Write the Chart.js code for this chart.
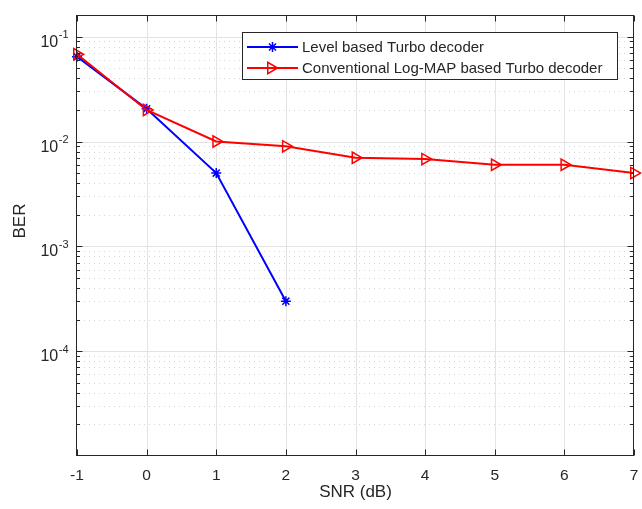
<!DOCTYPE html>
<html>
<head>
<meta charset="utf-8">
<script src="https://cdn.jsdelivr.net/npm/chart.js@4/dist/chart.umd.min.js"></script>
<style>
html,body{margin:0;padding:0;background:#fff;}
#wrap{width:642px;height:509px;position:relative;}
</style>
</head>
<body>
<div id="wrap"><canvas id="c" width="642" height="509"></canvas></div>
<script>
// ---- data ----
const snrLevel = [-1, 0, 1, 2];
const berLevel = [0.0645, 0.0205, 0.005, 0.0003];
const snrConv = [-1, 0, 1, 2, 3, 4, 5, 6, 7];
const berConv = [0.068, 0.02, 0.01, 0.009, 0.007, 0.0068, 0.006, 0.006, 0.005];
const xTicks = [-1, 0, 1, 2, 3, 4, 5, 6, 7];
const yDecades = [-1, -2, -3, -4];
const seriesNames = ['Level based Turbo decoder', 'Conventional Log-MAP based Turbo decoder'];
const xTitle = 'SNR (dB)';
const yTitle = 'BER';

const FONT = '"Liberation Sans", Arial, Helvetica, sans-serif';
const TXT = '#262626';
const YMIN = 1.0e-5, YMAX = 0.161;

function toPts(xs, ys) { return xs.map((x, i) => ({x: x, y: ys[i]})); }

function drawStar(ctx, x, y, r) {
  ctx.beginPath();
  ctx.moveTo(x - r, y); ctx.lineTo(x + r, y);
  ctx.moveTo(x, y - r); ctx.lineTo(x, y + r);
  const d = r * Math.SQRT1_2;
  ctx.moveTo(x - d, y - d); ctx.lineTo(x + d, y + d);
  ctx.moveTo(x - d, y + d); ctx.lineTo(x + d, y - d);
  ctx.stroke();
}
function drawTriRight(ctx, x, y, r) {
  const h = r * Math.sqrt(3) / 2;
  ctx.beginPath();
  ctx.moveTo(x + r, y);
  ctx.lineTo(x - r / 2, y - h);
  ctx.lineTo(x - r / 2, y + h);
  ctx.closePath();
  ctx.stroke();
}

const axesPlugin = {
  id: 'matlabAxes',
  beforeDatasetsDraw(chart) {
    const ctx = chart.ctx, ca = chart.chartArea, xs = chart.scales.x, ys = chart.scales.y;
    ctx.save();
    ctx.lineWidth = 1;
    // minor y grid (dotted)
    ctx.strokeStyle = '#d6d6d6';
    ctx.setLineDash([1, 4]);
    for (let k = -5; k <= -1; k++) {
      for (let m = 2; m <= 9; m++) {
        const v = m * Math.pow(10, k);
        if (v <= YMIN || v >= YMAX) continue;
        const py = Math.round(ys.getPixelForValue(v)) + 0.5;
        ctx.beginPath(); ctx.moveTo(ca.left + 2, py); ctx.lineTo(ca.right, py); ctx.stroke();
      }
    }
    // major grid
    ctx.setLineDash([]);
    ctx.strokeStyle = '#e3e3e3';
    yDecades.forEach(k => {
      const py = Math.round(ys.getPixelForValue(Math.pow(10, k))) + 0.5;
      ctx.beginPath(); ctx.moveTo(ca.left, py); ctx.lineTo(ca.right, py); ctx.stroke();
    });
    xTicks.forEach(t => {
      if (t === xTicks[0] || t === xTicks[xTicks.length - 1]) return;
      const px = Math.round(xs.getPixelForValue(t)) + 0.5;
      ctx.beginPath(); ctx.moveTo(px, ca.top); ctx.lineTo(px, ca.bottom); ctx.stroke();
    });
    ctx.restore();
  },
  afterDatasetsDraw(chart) {
    const ctx = chart.ctx, ca = chart.chartArea, xs = chart.scales.x, ys = chart.scales.y;
    ctx.save();
    ctx.strokeStyle = TXT;
    ctx.lineWidth = 1;
    const L = Math.round(ca.left) - 0.5, R = Math.round(ca.right) - 0.5;
    const T = Math.round(ca.top) + 0.5, B = Math.round(ca.bottom) - 0.5;
    ctx.strokeRect(L, T, R - L, B - T);
    // x ticks
    xTicks.forEach(t => {
      const px = Math.round(xs.getPixelForValue(t)) + 0.5;
      ctx.beginPath();
      ctx.moveTo(px, B); ctx.lineTo(px, B - 6);
      ctx.moveTo(px, T); ctx.lineTo(px, T + 6);
      ctx.stroke();
    });
    // y ticks
    for (let k = -5; k <= -1; k++) {
      for (let m = 1; m <= 9; m++) {
        const v = m * Math.pow(10, k);
        if (v <= YMIN || v >= YMAX) continue;
        const len = m === 1 ? 6 : 3.5;
        const py = Math.round(ys.getPixelForValue(v)) + 0.5;
        ctx.beginPath();
        ctx.moveTo(L, py); ctx.lineTo(L + len, py);
        ctx.moveTo(R, py); ctx.lineTo(R - len, py);
        ctx.stroke();
      }
    }
    // x tick labels
    ctx.fillStyle = TXT;
    ctx.font = '15.5px ' + FONT;
    ctx.textAlign = 'center';
    ctx.textBaseline = 'middle';
    xTicks.forEach(t => {
      ctx.fillText(String(t), xs.getPixelForValue(t), 475.5);
    });
    // y tick labels 10^k
    yDecades.forEach(k => {
      const py = ys.getPixelForValue(Math.pow(10, k));
      ctx.textAlign = 'right';
      ctx.textBaseline = 'alphabetic';
      ctx.font = '11px ' + FONT;
      const sup = String(k);
      const sw = ctx.measureText(sup).width;
      ctx.fillText(sup, 68.5, py + 1.8);
      ctx.font = '16px ' + FONT;
      ctx.fillText('10', 68.5 - sw - 0.5, py + 10);
    });
    // axis titles
    ctx.font = '17px ' + FONT;
    ctx.textAlign = 'center';
    ctx.textBaseline = 'middle';
    ctx.fillText(xTitle, (ca.left + ca.right) / 2, 492);
    ctx.save();
    ctx.translate(20, 221);
    ctx.rotate(-Math.PI / 2);
    ctx.fillText(yTitle, 0, 0);
    ctx.restore();
    // legend
    const lx = 242.5, ly = 32.5, lw = 375, lh = 47;
    ctx.fillStyle = '#ffffff';
    ctx.fillRect(lx, ly, lw, lh);
    ctx.strokeStyle = TXT;
    ctx.lineWidth = 1;
    ctx.strokeRect(lx, ly, lw, lh);
    const rows = [
      {y: 47, color: '#0000ff', marker: 'star'},
      {y: 68, color: '#ff0000', marker: 'tri'}
    ];
    rows.forEach((r, i) => {
      ctx.strokeStyle = r.color;
      ctx.lineWidth = 2;
      ctx.beginPath(); ctx.moveTo(247, r.y); ctx.lineTo(298, r.y); ctx.stroke();
      ctx.lineWidth = 1.5;
      if (r.marker === 'star') drawStar(ctx, 272.5, r.y, 5);
      else drawTriRight(ctx, 271, r.y, 6.5);
      ctx.fillStyle = TXT;
      ctx.font = '15px ' + FONT;
      ctx.textAlign = 'left';
      ctx.textBaseline = 'middle';
      ctx.fillText(seriesNames[i], 302, r.y + 0.5);
    });
    ctx.restore();
  }
};

new Chart(document.getElementById('c'), {
  type: 'line',
  data: {
    datasets: [
      {
        label: seriesNames[0],
        data: toPts(snrLevel, berLevel),
        borderColor: '#0000ff',
        backgroundColor: '#0000ff',
        borderWidth: 2,
        pointStyle: 'star',
        pointRadius: 5,
        pointBorderWidth: 1.5,
        pointBorderColor: '#0000ff',
        pointBackgroundColor: '#0000ff',
        tension: 0,
        fill: false,
        order: 1
      },
      {
        label: seriesNames[1],
        data: toPts(snrConv, berConv),
        borderColor: '#ff0000',
        backgroundColor: 'rgba(0,0,0,0)',
        borderWidth: 2,
        pointStyle: 'triangle',
        pointRotation: 90,
        pointRadius: 6.5,
        pointBorderWidth: 1.5,
        pointBorderColor: '#ff0000',
        pointBackgroundColor: 'rgba(0,0,0,0)',
        tension: 0,
        fill: false,
        order: 0
      }
    ]
  },
  options: {
    responsive: false,
    animation: false,
    events: [],
    clip: false,
    layout: {padding: {left: 77, right: 8, top: 15, bottom: 53}},
    plugins: {legend: {display: false}, title: {display: false}, tooltip: {enabled: false}},
    scales: {
      x: {type: 'linear', min: -1, max: 7, display: false},
      y: {type: 'logarithmic', min: YMIN, max: YMAX, display: false}
    }
  },
  plugins: [axesPlugin]
});
</script>
</body>
</html>
